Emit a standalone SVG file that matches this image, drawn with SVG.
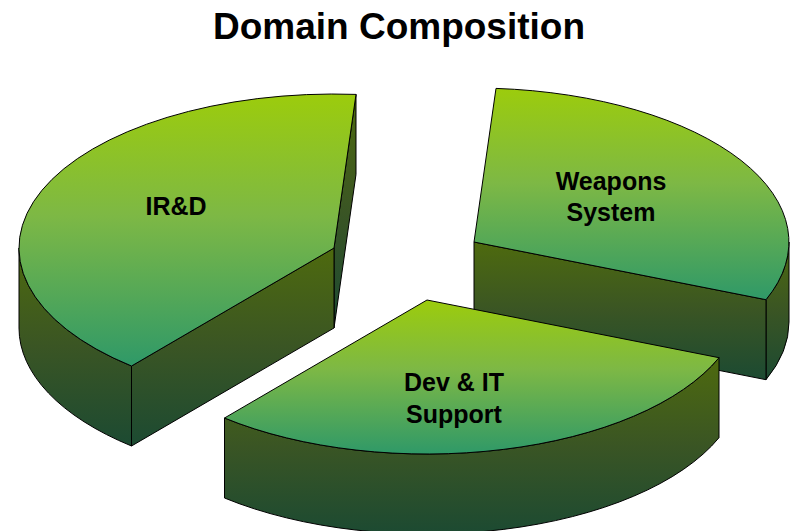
<svg xmlns="http://www.w3.org/2000/svg" width="792" height="531" viewBox="0 0 792 531">
<defs>
<linearGradient id="gTop" x1="0" y1="0" x2="0" y2="1">
<stop offset="0" stop-color="#9CCC0C"/>
<stop offset="0.45" stop-color="#7DB845"/>
<stop offset="1" stop-color="#2F9968"/>
</linearGradient>
<linearGradient id="gSide" x1="0" y1="0" x2="0" y2="1">
<stop offset="0" stop-color="#4E6A0E"/>
<stop offset="0.5" stop-color="#3A5524"/>
<stop offset="1" stop-color="#1C4A32"/>
</linearGradient>
<style>
.top{fill:url(#gTop);stroke:#000;stroke-width:1;stroke-linejoin:round}
.side{fill:url(#gSide);stroke:#000;stroke-width:1;stroke-linejoin:round}
.lbl{font-family:"Liberation Sans",Arial,sans-serif;font-weight:bold;font-size:25px;fill:#000;text-anchor:middle}
.title{font-family:"Liberation Sans",Arial,sans-serif;font-weight:bold;font-size:37px;fill:#000;text-anchor:middle}
</style>
</defs>
<rect width="792" height="531" fill="#fff"/>
<text class="title" x="399" y="39">Domain Composition</text>
<g id="ird">
<path class="side" d="M356,94.4 L334,248 L334,328 L356,174.4 Z"/>
<path class="side" d="M19,248 A315 154 0 0 0 131.5,366 L131.5,446 A315 154 0 0 1 19,328 Z"/>
<path class="side" d="M334,248 L131.5,366 L131.5,446 L334,328 Z"/>
<path class="top" d="M334,248 L356,94.4 A315 154 0 0 0 131.5,366 Z"/>
<text class="lbl" x="176" y="215">IR&amp;D</text>
</g>
<g id="weapons">
<path class="side" d="M789,242 A315 154 0 0 1 766,299.7 L766,379.7 A315 154 0 0 0 789,322 Z"/>
<path class="side" d="M474,242 L766,299.7 L766,379.7 L474,322 Z"/>
<path class="top" d="M474,242 L496,88.4 A315 154 0 0 1 766,299.7 Z"/>
<text class="lbl" x="611" y="190">Weapons</text>
<text class="lbl" x="611" y="221">System</text>
</g>
<g id="devit">
<path class="side" d="M719,357.7 A315 154 0 0 1 224.5,418 L224.5,498 A315 154 0 0 0 719,437.7 Z"/>
<path class="top" d="M427,300 L719,357.7 A315 154 0 0 1 224.5,418 Z"/>
<text class="lbl" x="454" y="391">Dev &amp; IT</text>
<text class="lbl" x="454" y="423">Support</text>
</g>
<g id="connectors"/>
</svg>
